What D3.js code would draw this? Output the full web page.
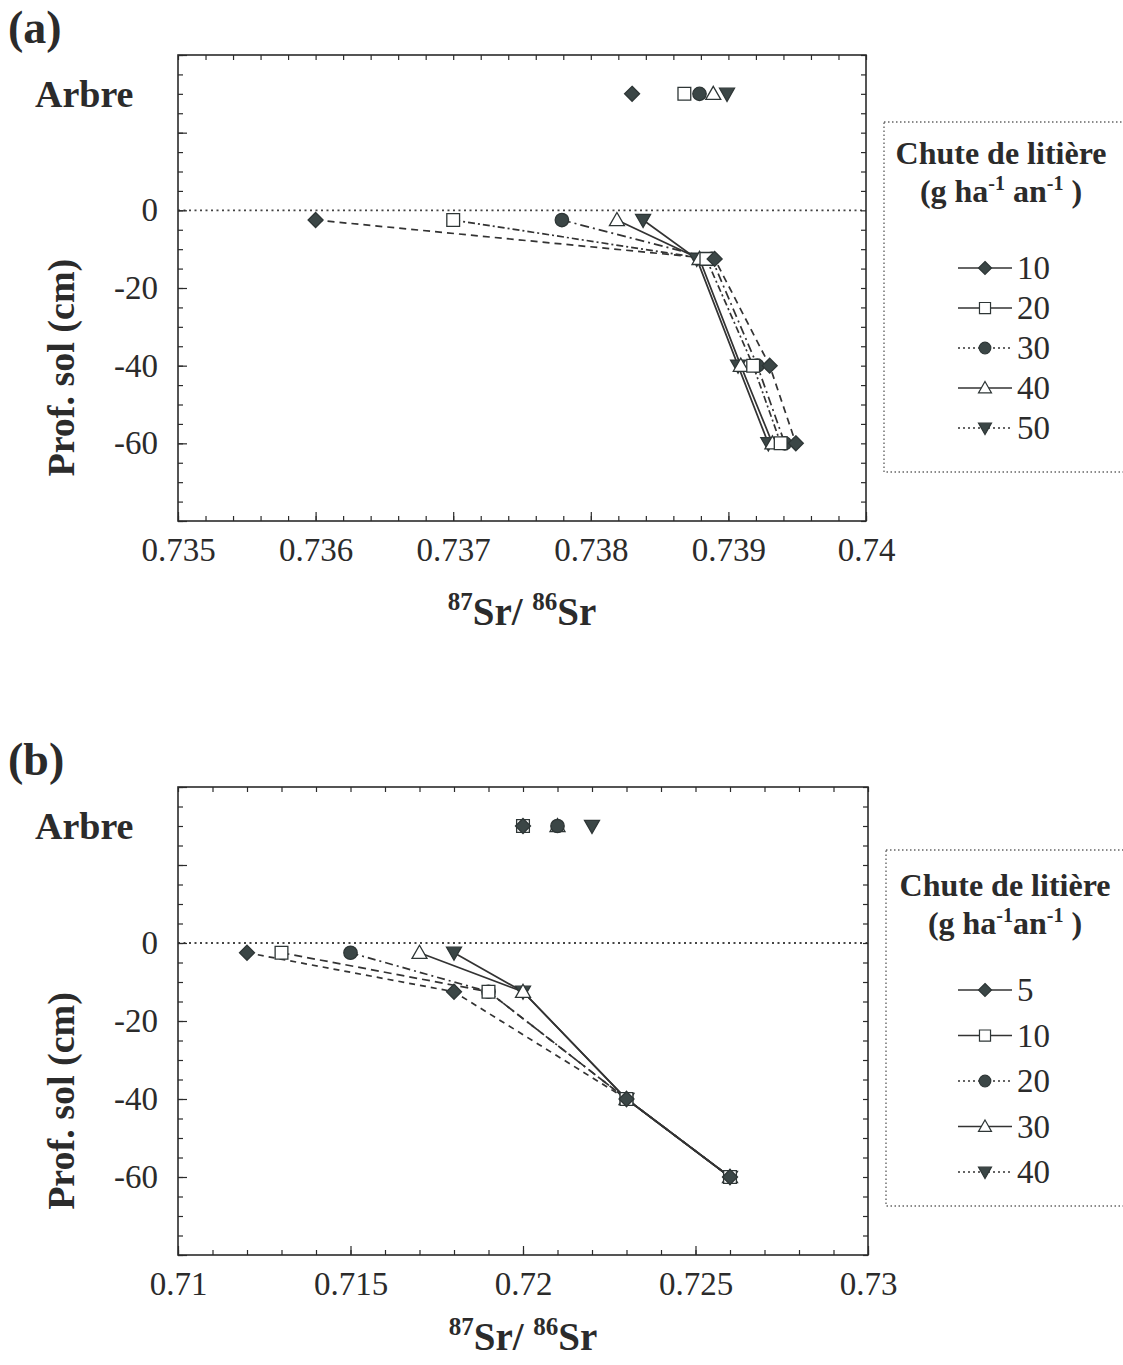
<!DOCTYPE html>
<html><head><meta charset="utf-8">
<script src="https://cdn.jsdelivr.net/npm/d3@7"></script>
<style>
body{margin:0;background:#fff;}
svg text{font-family:"Liberation Serif","Times New Roman",serif;fill:#2b2b2b;}
</style></head>
<body><svg id="c" width="1123" height="1365"></svg>
<script>
// ---------- DATA ----------
const depths = [-2.5, -12.5, -40, -60];
const arbreDepth = 30;

// Panel (a)
const seriesA = ["10", "20", "30", "40", "50"];
const arbreA = [0.7383, 0.73868, 0.73879, 0.73889, 0.73899];
const srA_10 = [0.7360, 0.73890, 0.73930, 0.73949];
const srA_20 = [0.7370, 0.73884, 0.73918, 0.73938];
const srA_30 = [0.73779, 0.73888, 0.73921, 0.73941];
const srA_40 = [0.73819, 0.73879, 0.73909, 0.73932];
const srA_50 = [0.73838, 0.73877, 0.73907, 0.73929];
const xTicksA = [0.735, 0.736, 0.737, 0.738, 0.739, 0.74];
const xTickLabelsA = ["0.735", "0.736", "0.737", "0.738", "0.739", "0.74"];

// Panel (b)
const seriesB = ["5", "10", "20", "30", "40"];
const arbreB = [0.7200, 0.7200, 0.7210, 0.7210, 0.7220];
const srB_5  = [0.7120, 0.7180, 0.7230, 0.7260];
const srB_10 = [0.7130, 0.7190, 0.7230, 0.7260];
const srB_20 = [0.7150, 0.7190, 0.7230, 0.7260];
const srB_30 = [0.7170, 0.7200, 0.7230, 0.7260];
const srB_40 = [0.7180, 0.7200, 0.7230, 0.7260];
const xTicksB = [0.71, 0.715, 0.72, 0.725, 0.73];
const xTickLabelsB = ["0.71", "0.715", "0.72", "0.725", "0.73"];

const yTicks = [0, -20, -40, -60];
const yTickLabels = ["0", "-20", "-40", "-60"];

// ---------- STYLE ----------
const markerKinds = ["diamond", "square", "circle", "triUp", "triDown"];
const plotDashA = ["7,5", "7,3,2,3", "9,4,2,4", null, null];
const plotDashB = ["6,5", "8,5", "8,4,2,4", null, null];
const legendDash = [null, null, "2,3", null, "2,3"];
const dark = "#3b4646";
const ink = "#2b2b2b";
const SERIF = '"Liberation Serif","Times New Roman",serif';

function markerPath(kind, r) {
  switch (kind) {
    case "diamond": return `M0,${-r}L${r},0L0,${r}L${-r},0Z`;
    case "square": { const s = r * 0.85; return `M${-s},${-s}H${s}V${s}H${-s}Z`; }
    case "circle": return d3.symbol(d3.symbolCircle, Math.PI * r * r * 0.8)();
    case "triUp": return `M0,${-r}L${r},${r * 0.75}L${-r},${r * 0.75}Z`;
    case "triDown": return `M${-r},${-r * 0.75}L${r},${-r * 0.75}L0,${r}Z`;
  }
}
function markerFill(kind) {
  return (kind === "square" || kind === "triUp") ? "#fff" : dark;
}

const svg = d3.select("#c");

function drawPanel(cfg) {
  const g = svg.append("g");
  const x = d3.scaleLinear().domain(cfg.xDomain).range([cfg.left, cfg.right]);
  const y = d3.scaleLinear().domain([-80, 40]).range([cfg.bottom, cfg.top]);

  // dotted zero line
  g.append("line").attr("x1", cfg.left).attr("x2", cfg.right)
    .attr("y1", y(0)).attr("y2", y(0))
    .attr("stroke", "#444").attr("stroke-width", 1.8).attr("stroke-dasharray", "2,3.5");

  // ticks
  const majorX = cfg.xTicks;
  const minorX = d3.range(0, Math.round((cfg.xDomain[1] - cfg.xDomain[0]) / cfg.minorStep) + 1)
    .map(i => cfg.xDomain[0] + i * cfg.minorStep);
  const majorY = d3.range(-80, 41, 20);
  const minorY = d3.range(-80, 41, 5);

  function axisGroup(axis, tx, ty) {
    const a = g.append("g").attr("transform", `translate(${tx},${ty})`).call(axis);
    a.attr("font-family", SERIF);
    a.select(".domain").remove();
    a.selectAll("line").attr("stroke", ink).attr("stroke-width", 1.2);
    return a;
  }
  axisGroup(d3.axisBottom(x).tickValues(minorX).tickSize(-5).tickFormat(""), 0, cfg.bottom);
  axisGroup(d3.axisBottom(x).tickValues(majorX).tickSize(-9).tickFormat(""), 0, cfg.bottom);
  axisGroup(d3.axisTop(x).tickValues(minorX).tickSize(-5).tickFormat(""), 0, cfg.top);
  axisGroup(d3.axisLeft(y).tickValues(minorY).tickSize(-5).tickFormat(""), cfg.left, 0);
  axisGroup(d3.axisLeft(y).tickValues(majorY).tickSize(-9).tickFormat(""), cfg.left, 0);
  axisGroup(d3.axisRight(y).tickValues(minorY).tickSize(-5).tickFormat(""), cfg.right, 0);

  // tick labels
  const xl = axisGroup(d3.axisBottom(x).tickValues(majorX).tickSize(0).tickPadding(17)
    .tickFormat((d, i) => cfg.xTickLabels[i]), 0, cfg.bottom);
  xl.selectAll("text").attr("font-size", 33).attr("fill", ink).attr("font-family", SERIF);
  const yl = axisGroup(d3.axisLeft(y).tickValues(yTicks).tickSize(0).tickPadding(20)
    .tickFormat((d, i) => yTickLabels[i]), cfg.left, 0);
  yl.selectAll("text").attr("font-size", 33).attr("fill", ink).attr("font-family", SERIF);

  // frame
  g.append("rect").attr("x", cfg.left).attr("y", cfg.top)
    .attr("width", cfg.right - cfg.left).attr("height", cfg.bottom - cfg.top)
    .attr("fill", "none").attr("stroke", ink).attr("stroke-width", 1.6);

  // series lines
  const line = d3.line().x(d => x(d[0])).y(d => y(d[1]));
  cfg.series.forEach((vals, i) => {
    const pts = vals.map((v, j) => [v, depths[j]]);
    g.append("path").datum(pts).attr("d", line)
      .attr("fill", "none").attr("stroke", "#333").attr("stroke-width", 1.7)
      .attr("stroke-dasharray", cfg.plotDash[i]);
  });
  // markers (reverse order so the diamond sits on top)
  d3.range(cfg.series.length - 1, -1, -1).forEach(i => {
    const vals = cfg.series[i];
    const k = markerKinds[i];
    vals.forEach((v, j) => {
      g.append("path").attr("d", markerPath(k, 7.5))
        .attr("transform", `translate(${x(v)},${y(depths[j])})`)
        .attr("fill", markerFill(k)).attr("stroke", "#2e3636").attr("stroke-width", 1.3);
    });
    g.append("path").attr("d", markerPath(k, 7.5))
      .attr("transform", `translate(${x(cfg.arbre[i])},${y(arbreDepth)})`)
      .attr("fill", markerFill(k)).attr("stroke", "#2e3636").attr("stroke-width", 1.3);
  });

  // panel labels
  g.append("text").attr("x", 8).attr("y", cfg.top - 12).attr("font-size", 46)
    .attr("font-weight", "bold").text(cfg.panel);
  g.append("text").attr("x", 35).attr("y", y(arbreDepth) + 13).attr("font-size", 38)
    .attr("font-weight", "bold").text("Arbre");
  g.append("text").attr("transform", `translate(${cfg.left - 104},${y(-40) + 2}) rotate(-90)`)
    .attr("text-anchor", "middle").attr("font-size", 38).attr("font-weight", "bold")
    .text("Prof. sol (cm)");

  // x axis title
  const t = g.append("text").attr("x", (cfg.left + cfg.right) / 2).attr("y", cfg.bottom + cfg.titleOff)
    .attr("text-anchor", "middle").attr("font-weight", "bold").attr("font-size", 39);
  t.append("tspan").attr("font-size", 25).attr("dy", -15).text("87");
  t.append("tspan").attr("dy", 15).text("Sr/ ");
  t.append("tspan").attr("font-size", 25).attr("dy", -15).text("86");
  t.append("tspan").attr("dy", 15).text("Sr");

  // legend
  const L = cfg.legend;
  g.append("rect").attr("x", L.x).attr("y", L.y).attr("width", 1123 - L.x + 10).attr("height", L.h)
    .attr("fill", "none").attr("stroke", "#666").attr("stroke-width", 1.4).attr("stroke-dasharray", "1.5,2.5");
  g.append("text").attr("x", L.cx).attr("y", L.titleY).attr("text-anchor", "middle")
    .attr("font-size", 32).attr("font-weight", "bold").text("Chute de litière");
  const st = g.append("text").attr("x", L.cx).attr("y", L.titleY + 38).attr("text-anchor", "middle")
    .attr("font-size", 32).attr("font-weight", "bold");
  st.append("tspan").text("(g ha");
  st.append("tspan").attr("font-size", 20).attr("dy", -12).text("-1");
  st.append("tspan").attr("dy", 12).text(L.gap + "an");
  st.append("tspan").attr("font-size", 20).attr("dy", -12).text("-1");
  st.append("tspan").attr("dy", 12).text(" )");
  cfg.names.forEach((nm, i) => {
    const yy = L.entryY + i * L.step;
    g.append("line").attr("x1", L.mx - 27).attr("x2", L.mx + 27).attr("y1", yy).attr("y2", yy)
      .attr("stroke", "#333").attr("stroke-width", 1.5).attr("stroke-dasharray", legendDash[i]);
    const k = markerKinds[i];
    g.append("path").attr("d", markerPath(k, 6.5)).attr("transform", `translate(${L.mx},${yy})`)
      .attr("fill", markerFill(k)).attr("stroke", "#2e3636").attr("stroke-width", 1.2);
    g.append("text").attr("x", L.mx + 32).attr("y", yy + 11).attr("font-size", 33).text(nm);
  });
}

drawPanel({
  panel: "(a)", left: 178, right: 866, top: 55, bottom: 521, titleOff: 104,
  xDomain: [0.735, 0.74], minorStep: 0.0002, xTicks: xTicksA, xTickLabels: xTickLabelsA,
  series: [srA_10, srA_20, srA_30, srA_40, srA_50], arbre: arbreA, names: seriesA,
  plotDash: plotDashA,
  legend: { x: 884, y: 122, h: 350, cx: 1001, titleY: 164, gap: " ", mx: 985, entryY: 268, step: 40 }
});
drawPanel({
  panel: "(b)", left: 178, right: 868, top: 787, bottom: 1255, titleOff: 95,
  xDomain: [0.71, 0.73], minorStep: 0.001, xTicks: xTicksB, xTickLabels: xTickLabelsB,
  series: [srB_5, srB_10, srB_20, srB_30, srB_40], arbre: arbreB, names: seriesB,
  plotDash: plotDashB,
  legend: { x: 886, y: 850, h: 356, cx: 1005, titleY: 896, gap: "", mx: 985, entryY: 990, step: 45.5 }
});
</script></body></html>
